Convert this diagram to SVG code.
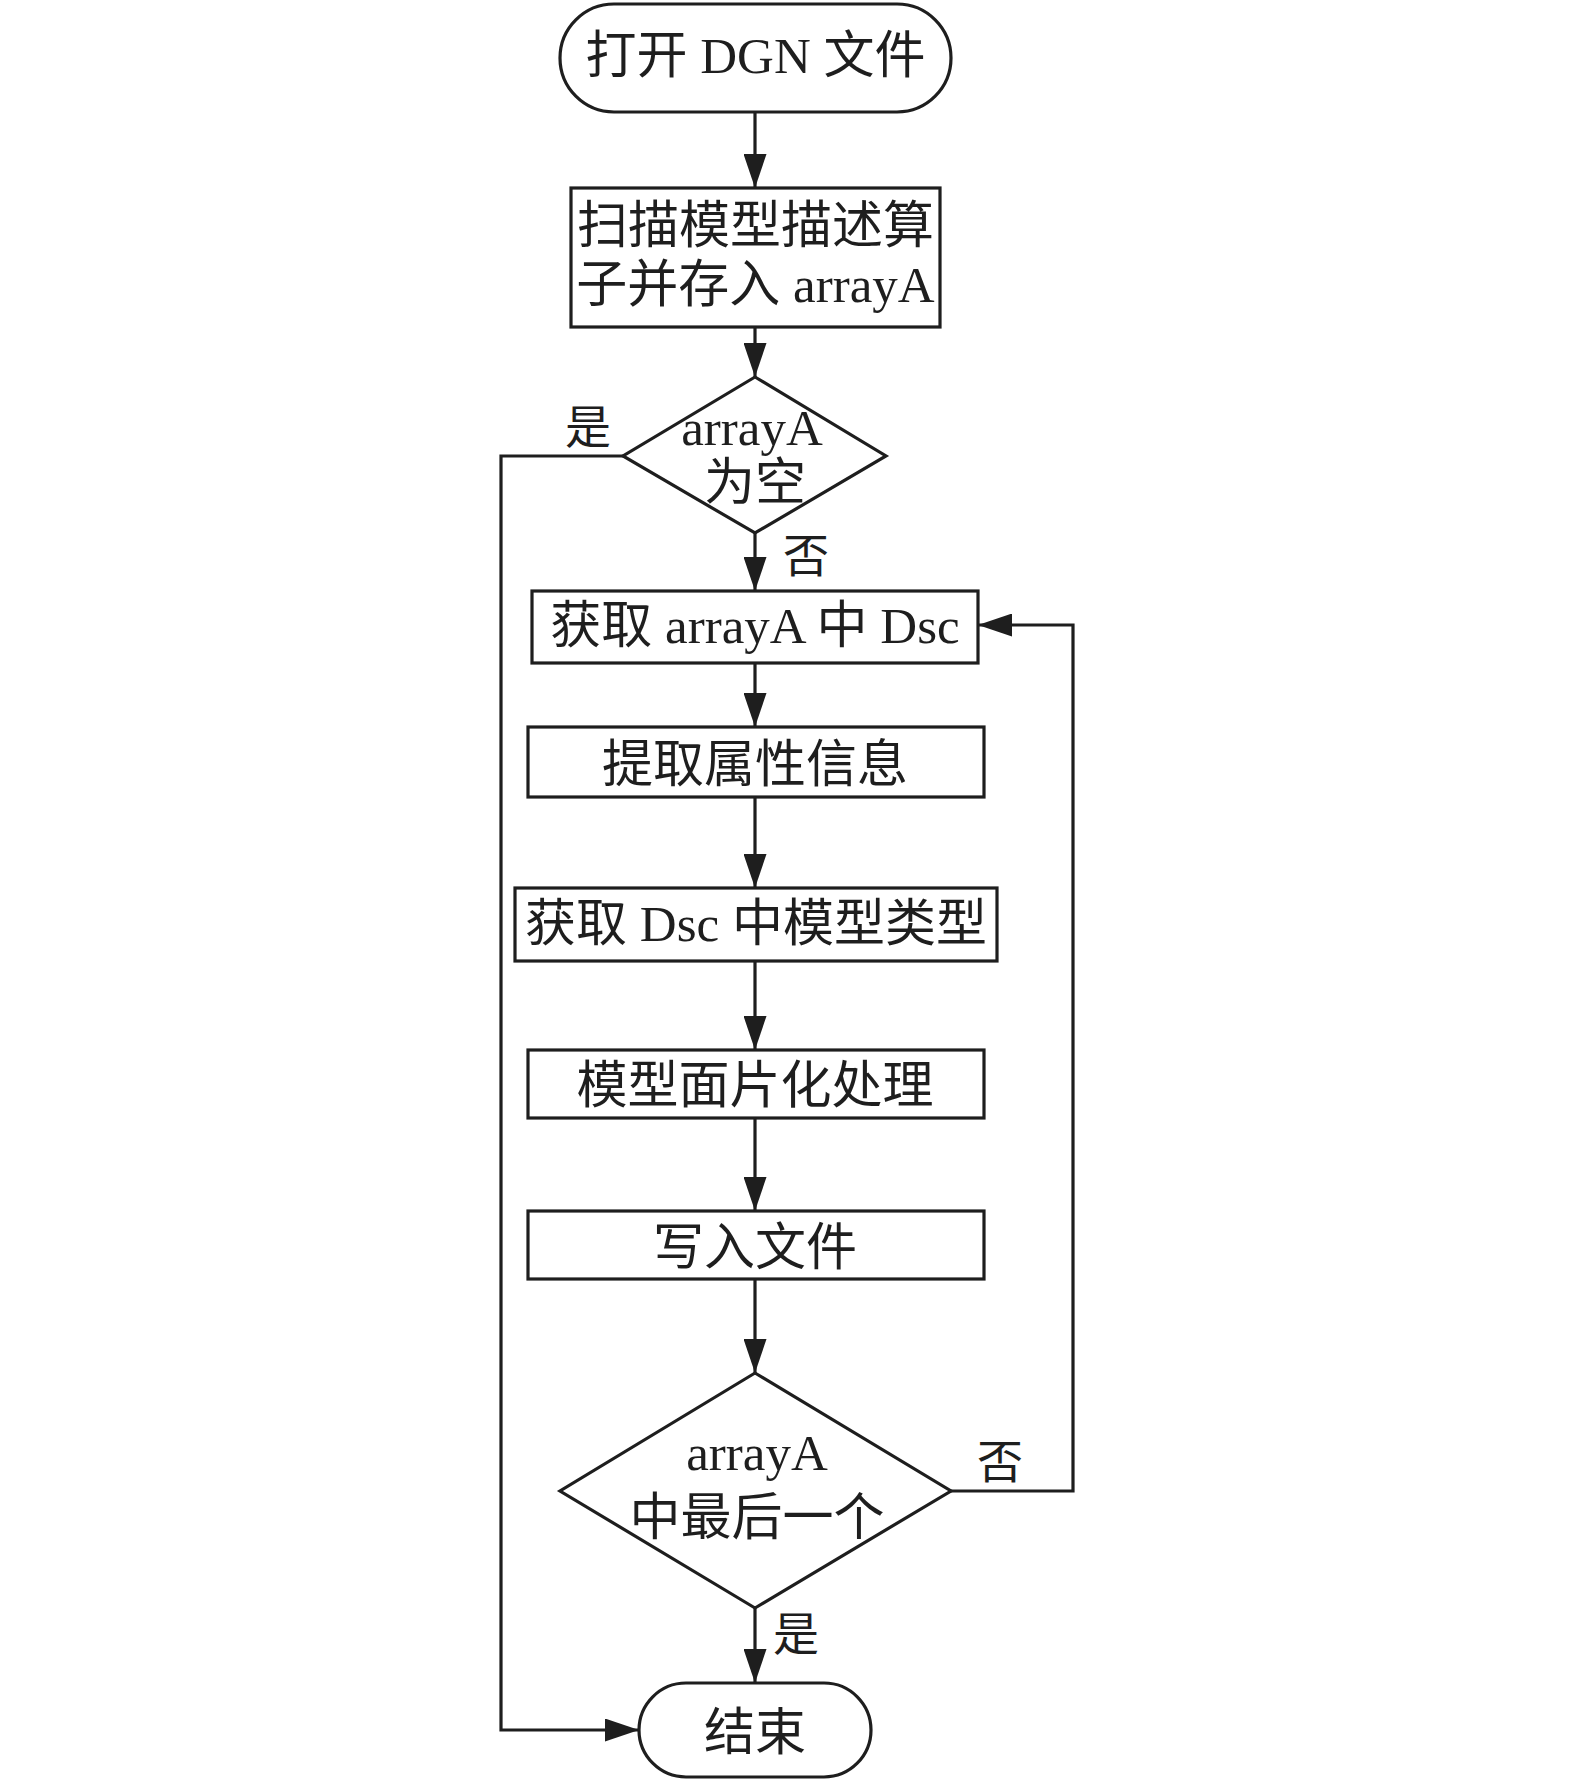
<svg xmlns="http://www.w3.org/2000/svg" width="1575" height="1781" viewBox="0 0 1575 1781">
<style>
.s{fill:#fff;stroke:#1e1e1e;stroke-width:3.2}
.c{fill:none;stroke:#1e1e1e;stroke-width:3.2}
.t{font-family:"Liberation Serif","Noto Sans CJK SC",serif;font-size:51px;fill:#1e1e1e;text-anchor:middle}
.l{font-family:"Liberation Serif","Noto Sans CJK SC",serif;font-size:46px;fill:#1e1e1e}
</style>
<defs>
<marker id="ah" markerUnits="userSpaceOnUse" viewBox="0 0 34 23" refX="34" refY="11.5" markerWidth="34" markerHeight="23" orient="auto">
<path d="M0,0 L34,11.5 L0,23 Z" fill="#1e1e1e"/>
</marker>
</defs>
<rect width="1575" height="1781" fill="#fff"/>
<g id="connectors">
<line class="c" x1="755" y1="112" x2="755" y2="188" marker-end="url(#ah)"/>
<line class="c" x1="755" y1="327" x2="755" y2="377" marker-end="url(#ah)"/>
<line class="c" x1="755" y1="533" x2="755" y2="591" marker-end="url(#ah)"/>
<polyline class="c" points="623,456 501,456 501,1730 639,1730" marker-end="url(#ah)"/>
<line class="c" x1="755" y1="663" x2="755" y2="727" marker-end="url(#ah)"/>
<line class="c" x1="755" y1="797" x2="755" y2="888" marker-end="url(#ah)"/>
<line class="c" x1="755" y1="961" x2="755" y2="1050" marker-end="url(#ah)"/>
<line class="c" x1="755" y1="1118" x2="755" y2="1211" marker-end="url(#ah)"/>
<line class="c" x1="755" y1="1279" x2="755" y2="1373" marker-end="url(#ah)"/>
<line class="c" x1="755" y1="1608" x2="755" y2="1683" marker-end="url(#ah)"/>
<polyline class="c" points="951,1491 1073,1491 1073,625 978,625" marker-end="url(#ah)"/>
<text class="l" x="565" y="443">是</text>
<text class="l" x="783" y="572">否</text>
<text class="l" x="977" y="1478">否</text>
<text class="l" x="773" y="1650">是</text>
</g>
<g id="start">
<rect class="s" x="560" y="4" width="391" height="108" rx="54" ry="54"/>
<text class="t" x="755.5" y="73">打开 DGN 文件</text>
</g>
<g id="scan">
<rect class="s" x="571" y="188" width="369" height="139"/>
<text class="t" x="755.5" y="243">扫描模型描述算</text>
<text class="t" x="755.5" y="302">子并存入 arrayA</text>
</g>
<g id="empty">
<polygon class="s" points="755,377 886,456 755,533 623,456"/>
<text class="t" x="752" y="445">arrayA</text>
<text class="t" x="755" y="500">为空</text>
</g>
<g id="getdsc">
<rect class="s" x="532" y="591" width="446" height="72"/>
<text class="t" x="755" y="643">获取 arrayA 中 Dsc</text>
</g>
<g id="attr">
<rect class="s" x="528" y="727" width="456" height="70"/>
<text class="t" x="755" y="782">提取属性信息</text>
</g>
<g id="type">
<rect class="s" x="515" y="888" width="482" height="73"/>
<text class="t" x="756" y="941">获取 Dsc 中模型类型</text>
</g>
<g id="mesh">
<rect class="s" x="528" y="1050" width="456" height="68"/>
<text class="t" x="755" y="1103">模型面片化处理</text>
</g>
<g id="write">
<rect class="s" x="528" y="1211" width="456" height="68"/>
<text class="t" x="755" y="1265">写入文件</text>
</g>
<g id="last">
<polygon class="s" points="755,1373 951,1491 755,1608 560,1491"/>
<text class="t" x="757" y="1470">arrayA</text>
<text class="t" x="757" y="1535">中最后一个</text>
</g>
<g id="end">
<rect class="s" x="639" y="1683" width="232" height="94" rx="47" ry="47"/>
<text class="t" x="755" y="1750">结束</text>
</g>
</svg>
